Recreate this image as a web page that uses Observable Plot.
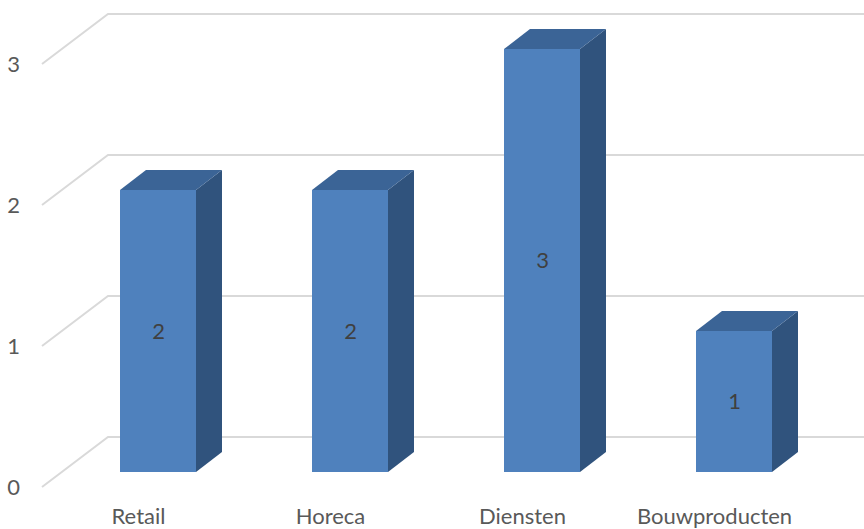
<!DOCTYPE html>
<html>
<head>
<meta charset="utf-8">
<script src="https://cdn.jsdelivr.net/npm/d3@7"></script>
<script src="https://cdn.jsdelivr.net/npm/@observablehq/plot@0.6"></script>
<style>
  html, body { margin: 0; padding: 0; background: #ffffff; }
  #chart { width: 864px; height: 529px; }
</style>
</head>
<body>
<div id="chart"></div>
<script>
// ---- data ----
const categories = ["Retail", "Horeca", "Diensten", "Bouwproducten"];
const counts = [2, 2, 3, 1];
const yTicks = [0, 1, 2, 3];

const data = categories.map((c, i) => ({category: c, value: counts[i]}));

// ---- style / perspective constants (pixels) ----
const W = 864, H = 529;
const ML = 62, MR = 34, MT = 49, MB = 57;
const DEPTH = {dx: 26, dy: -20};   // bar depth
const BACK = {dx: 46, dy: -35};    // back wall relative to bar plane
const FRONT = {dx: -20, dy: 15};   // floor front edge relative to bar plane
const C_FRONT = "#4F81BD", C_TOP = "#3B6496", C_SIDE = "#30537D";
const C_GRID = "#D9D9D9";
const FONT = "Lato, 'Liberation Sans', sans-serif";
const FS = 22;

// gridlines: diagonal on the side wall + horizontal on the back wall
function gridRender(index, scales, values, dims) {
  const g = d3.create("svg:g");
  for (const i of index) {
    const yy = values.y[i];
    g.append("polyline")
      .attr("points", [
        [dims.marginLeft + FRONT.dx, yy + FRONT.dy],
        [dims.marginLeft + BACK.dx, yy + BACK.dy],
        [dims.width, yy + BACK.dy]
      ].join(" "))
      .attr("fill", "none")
      .attr("stroke", C_GRID)
      .attr("stroke-width", 2);
  }
  return g.node();
}

// 3D bars drawn from the band / linear scales
function barRender(index, scales, values, dims) {
  const g = d3.create("svg:g");
  const bw = scales.x.bandwidth();
  for (const i of index) {
    const x0 = values.x[i], x1 = x0 + bw;
    const yt = Math.min(values.y1[i], values.y2[i]);
    const yb = Math.max(values.y1[i], values.y2[i]);
    const {dx, dy} = DEPTH;
    g.append("polygon")
      .attr("points", [[x1, yt], [x1 + dx, yt + dy], [x1 + dx, yb + dy], [x1, yb]].join(" "))
      .attr("fill", C_SIDE);
    g.append("polygon")
      .attr("points", [[x0, yt], [x0 + dx, yt + dy], [x1 + dx, yt + dy], [x1, yt]].join(" "))
      .attr("fill", C_TOP);
    g.append("rect")
      .attr("x", x0).attr("y", yt)
      .attr("width", bw).attr("height", yb - yt)
      .attr("fill", C_FRONT);
  }
  return g.node();
}

const chart = Plot.plot({
  width: W,
  height: H,
  marginLeft: ML,
  marginRight: MR,
  marginTop: MT,
  marginBottom: MB,
  style: {fontFamily: FONT, fontSize: FS + "px", background: "#ffffff"},
  x: {domain: categories, paddingInner: 0.604, paddingOuter: 0.302, label: null},
  y: {domain: [0, 3], label: null},
  marks: [
    Plot.ruleY(yTicks, {y: d => d, render: gridRender}),
    Plot.barY(data, {x: "category", y: "value", render: barRender}),
    Plot.text(data, {
      x: "category",
      y: d => d.value / 2,
      text: d => String(d.value),
      fill: "#404040",
      fontSize: FS
    }),
    Plot.text(yTicks, {
      y: d => d,
      text: d => String(d),
      frameAnchor: "left",
      dx: -49,
      dy: FRONT.dy,
      textAnchor: "middle",
      fill: "#595959",
      fontSize: FS
    }),
    Plot.axisX({
      tickSize: 0,
      tickPadding: 36,
      dx: FRONT.dx,
      label: null,
      fill: "#595959",
      fontSize: FS
    }),
    Plot.axisY({ticks: [], label: null, tickSize: 0})
  ]
});

document.getElementById("chart").appendChild(chart);
</script>
</body>
</html>
